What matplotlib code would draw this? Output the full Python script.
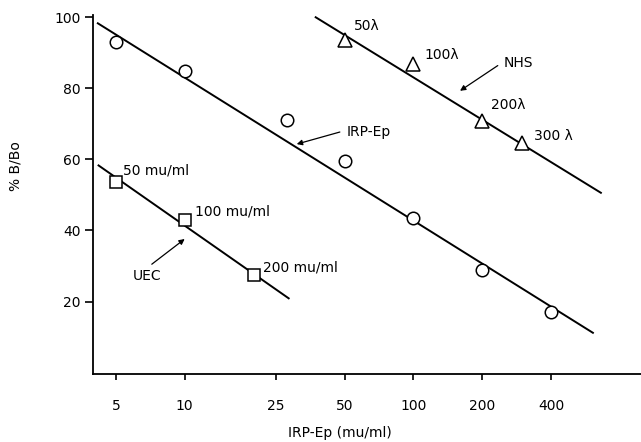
import matplotlib
matplotlib.use("Agg")
import matplotlib.pyplot as plt
from matplotlib.ticker import FixedLocator, FixedFormatter, NullLocator

# ---- data ----
irp_x = [5, 10, 28, 50, 100, 200, 400]
irp_y = [93, 85, 71, 59.5, 43.5, 29, 17]
irp_fit_x = [4.17, 610]
irp_fit_y = [98.3, 11.2]

uec_x = [5, 10, 20]
uec_y = [53.5, 43, 27.5]
uec_fit_x = [4.2, 28.5]
uec_fit_y = [58.3, 20.9]

nhs_x = [50, 100, 200, 300]
nhs_y = [93.6, 86.8, 70.9, 64.5]
nhs_fit_x = [37.4, 661]
nhs_fit_y = [100, 50.6]

uec_labels = ["50 mu/ml", "100 mu/ml", "200 mu/ml"]
nhs_labels = ["50λ", "100λ", "200λ", "300 λ"]

x_ticks = [5, 10, 25, 50, 100, 200, 400]
x_tick_labels = ["5", "10", "25", "50", "100", "200", "400"]
y_ticks = [20, 40, 60, 80, 100]
y_tick_labels = ["20", "40", "60", "80", "100"]

plt.rcParams['font.family'] = ['DejaVu Sans']
FS = 10

fig = plt.figure(figsize=(6.41, 4.42), dpi=100)
ax = fig.add_axes([0.145, 0.1538, 0.855, 0.812])

lw = 1.4
ax.plot(irp_fit_x, irp_fit_y, color='black', lw=lw)
ax.plot(uec_fit_x, uec_fit_y, color='black', lw=lw)
ax.plot(nhs_fit_x, nhs_fit_y, color='black', lw=lw)

ax.plot(irp_x, irp_y, 'o', ms=9, mfc='white', mec='black', mew=1.1, ls='none')
ax.plot(uec_x, uec_y, 's', ms=8, mfc='white', mec='black', mew=1.1, ls='none')
ax.plot(nhs_x, nhs_y, '^', ms=10, mfc='white', mec='black', mew=1.1, ls='none')

ax.set_xscale('log')
ax.set_xlim(3.97, 990)
ax.set_ylim(-0.4, 100.6)

ax.xaxis.set_major_locator(FixedLocator(x_ticks))
ax.xaxis.set_major_formatter(FixedFormatter(x_tick_labels))
ax.xaxis.set_minor_locator(NullLocator())
ax.yaxis.set_major_locator(FixedLocator(y_ticks))
ax.yaxis.set_major_formatter(FixedFormatter(y_tick_labels))

for s in ['top', 'right']:
    ax.spines[s].set_visible(False)
for s in ['left', 'bottom']:
    ax.spines[s].set_linewidth(1.3)

ax.tick_params(axis='x', direction='out', length=4, width=1.2, pad=14, labelsize=FS)
ax.tick_params(axis='y', direction='out', length=6, width=1.2, pad=3, labelsize=FS)

ax.set_xlabel("IRP-Ep (mu/ml)", fontsize=FS)
ax.xaxis.set_label_coords(0.45, -0.145)
ax.set_ylabel("% B/Bo", fontsize=FS)
ax.yaxis.set_label_coords(-0.128, 0.58)

# point labels
uec_lab_pos = [(5.36, 56.9), (11.07, 45.2), (22.0, 29.6)]
for t, (x, y) in zip(uec_labels, uec_lab_pos):
    ax.text(x, y, t, fontsize=FS, ha='left', va='center')
nhs_lab_pos = [(54.9, 97.4), (112, 89.5), (218, 75.3), (337, 66.5)]
for t, (x, y) in zip(nhs_labels, nhs_lab_pos):
    ax.text(x, y, t, fontsize=FS, ha='left', va='center')

arrow = dict(arrowstyle='-|>', color='black', lw=0.9, mutation_scale=8, shrinkA=0, shrinkB=0)
ax.text(51.2, 67.7, "IRP-Ep", fontsize=FS, ha='left', va='center')
ax.annotate("", xy=(30.9, 64.3), xytext=(47.7, 67.7), arrowprops=arrow)
ax.text(249, 87.2, "NHS", fontsize=FS, ha='left', va='center')
ax.annotate("", xy=(160, 79.3), xytext=(234, 86.4), arrowprops=arrow)
ax.text(5.93, 27.1, "UEC", fontsize=FS, ha='left', va='center')
ax.annotate("", xy=(10.0, 37.6), xytext=(7.18, 30.5), arrowprops=arrow)

fig.savefig("out.png", dpi=100)
